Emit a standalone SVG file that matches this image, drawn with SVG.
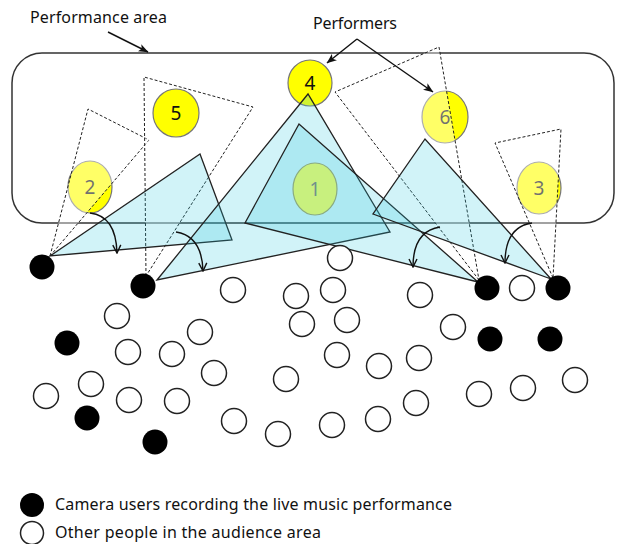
<svg xmlns="http://www.w3.org/2000/svg" width="617" height="544" viewBox="0 0 617 544">
  <defs>
    <style>
      .lbl{font-family:"Noto Sans","Open Sans","Liberation Sans",sans-serif;font-size:16px;fill:#111}
      .num{font-family:"Noto Sans","Open Sans","Liberation Sans",sans-serif;font-size:19px;text-anchor:middle;fill:#111}
      .perf{fill:#ffff00;stroke:#777;stroke-width:1.2}
      .fov{fill:#ffffff;fill-opacity:0.4;stroke:#222;stroke-width:1;stroke-dasharray:3 2}
      .view{fill:#2fc8e0;fill-opacity:0.22;stroke:#222;stroke-width:1.3}
      .cam{fill:#000}
      .aud{fill:#fff;stroke:#222;stroke-width:1.5}
      .arrow{fill:none;stroke:#111;stroke-width:1.4}
      .area{fill:none;stroke:#333;stroke-width:1.5}
    </style>
    <marker id="head" viewBox="0 0 10 8" refX="9.5" refY="4" markerWidth="10" markerHeight="8" markerUnits="userSpaceOnUse" orient="auto">
      <path d="M0,0 L10,4 L0,8 L2.5,4 z" fill="#111"/>
    </marker>
    <marker id="chev" viewBox="0 0 10 10" refX="9" refY="5" markerWidth="10" markerHeight="10" markerUnits="userSpaceOnUse" orient="auto">
      <path d="M1,1 L9,5 L1,9" fill="none" stroke="#111" stroke-width="1.4"/>
    </marker>
  </defs>

  <!-- stage outline -->
  <g id="performance-area">
    <rect class="area" x="12" y="53" width="602" height="170" rx="30" ry="30"/>
    <text class="lbl" x="30" y="23" textLength="137">Performance area</text>
  </g>

  <!-- performers partly covered by camera views -->
  <g id="performer-2">
    <ellipse class="perf" cx="90" cy="187" rx="22" ry="26"/>
    <text class="num" x="90" y="194">2</text>
  </g>
  <g id="performer-3">
    <ellipse class="perf" cx="539" cy="188" rx="22" ry="26"/>
    <text class="num" x="539" y="195">3</text>
  </g>
  <g id="performer-6">
    <ellipse class="perf" cx="445" cy="117" rx="23" ry="26"/>
    <text class="num" x="445" y="124">6</text>
  </g>

  <!-- dashed fields of view -->
  <g id="fields-of-view">
    <polygon class="fov" points="50,256 88,109 149,140"/>
    <polygon class="fov" points="146,276 144,77 253,107"/>
    <polygon class="fov" points="479,280 335,92 439,47"/>
    <polygon class="fov" points="553,278 495,143 561,129"/>
  </g>

  <g id="performer-4">
    <ellipse class="perf" cx="310" cy="83" rx="22" ry="23"/>
    <text class="num" x="310" y="90">4</text>
  </g>
  <g id="performer-5">
    <ellipse class="perf" cx="176" cy="113" rx="23" ry="24"/>
    <text class="num" x="176" y="120">5</text>
  </g>

  <!-- shaded recording views -->
  <g id="recording-views">
    <polygon class="view" points="50,256 200,154 232,240"/>
    <polygon class="view" points="157,280 308,94 390,232"/>
    <polygon class="view" points="478,282 299,124 245,223"/>
    <polygon class="view" points="551,279 425,139 373,214"/>
  </g>

  <g id="performer-1">
    <ellipse cx="315" cy="189" rx="22" ry="26" fill="#c8f07e" stroke="#8aab80" stroke-width="1.2"/>
    <text class="num" x="315" y="196" style="fill:#71908c">1</text>
  </g>

  <!-- connectors -->
  <g id="connectors">
    <line class="arrow" x1="108" y1="32" x2="148" y2="52" marker-end="url(#head)"/>
    <line class="arrow" x1="357" y1="39" x2="327" y2="63" marker-end="url(#head)"/>
    <line class="arrow" x1="357" y1="39" x2="433" y2="92" marker-end="url(#head)"/>
    <path class="arrow" d="M90,213 Q116,216 117,253" marker-end="url(#chev)"/>
    <path class="arrow" d="M176,232 Q202,236 203,271" marker-end="url(#chev)"/>
    <path class="arrow" d="M440,227 Q413,231 413,267" marker-end="url(#chev)"/>
    <path class="arrow" d="M532,223 Q505,227 505,263" marker-end="url(#chev)"/>
    <text class="lbl" x="313" y="29" textLength="84">Performers</text>
  </g>

  <!-- camera users -->
  <g id="camera-users">
    <circle class="cam" cx="42" cy="267" r="12.5"/>
    <circle class="cam" cx="143" cy="286" r="12.5"/>
    <circle class="cam" cx="487" cy="288" r="12.5"/>
    <circle class="cam" cx="558" cy="288" r="12.5"/>
    <circle class="cam" cx="67" cy="343" r="12.5"/>
    <circle class="cam" cx="87" cy="418" r="12.5"/>
    <circle class="cam" cx="155" cy="442" r="12.5"/>
    <circle class="cam" cx="490" cy="339" r="12.5"/>
    <circle class="cam" cx="550" cy="339" r="12.5"/>
  </g>

  <!-- rest of the audience -->
  <g id="audience">
    <circle class="aud" cx="340" cy="258" r="12.5"/>
    <circle class="aud" cx="233" cy="290" r="12.5"/>
    <circle class="aud" cx="333" cy="290" r="12.5"/>
    <circle class="aud" cx="420" cy="295" r="12.5"/>
    <circle class="aud" cx="522" cy="288" r="12.5"/>
    <circle class="aud" cx="296" cy="296" r="12.5"/>
    <circle class="aud" cx="117" cy="316" r="12.5"/>
    <circle class="aud" cx="302" cy="324" r="12.5"/>
    <circle class="aud" cx="347" cy="320" r="12.5"/>
    <circle class="aud" cx="453" cy="327" r="12.5"/>
    <circle class="aud" cx="200" cy="332" r="12.5"/>
    <circle class="aud" cx="128" cy="352" r="12.5"/>
    <circle class="aud" cx="172" cy="354" r="12.5"/>
    <circle class="aud" cx="337" cy="355" r="12.5"/>
    <circle class="aud" cx="419" cy="358" r="12.5"/>
    <circle class="aud" cx="379" cy="366" r="12.5"/>
    <circle class="aud" cx="214" cy="373" r="12.5"/>
    <circle class="aud" cx="286" cy="379" r="12.5"/>
    <circle class="aud" cx="91" cy="384" r="12.5"/>
    <circle class="aud" cx="46" cy="396" r="12.5"/>
    <circle class="aud" cx="129" cy="400" r="12.5"/>
    <circle class="aud" cx="177" cy="401" r="12.5"/>
    <circle class="aud" cx="234" cy="421" r="12.5"/>
    <circle class="aud" cx="278" cy="434" r="12.5"/>
    <circle class="aud" cx="332" cy="425" r="12.5"/>
    <circle class="aud" cx="378" cy="419" r="12.5"/>
    <circle class="aud" cx="416" cy="403" r="12.5"/>
    <circle class="aud" cx="479" cy="394" r="12.5"/>
    <circle class="aud" cx="523" cy="388" r="12.5"/>
    <circle class="aud" cx="575" cy="380" r="12.5"/>
  </g>

  <!-- key -->
  <g id="legend">
    <circle class="cam" cx="32" cy="505" r="12"/>
    <text class="lbl" x="55" y="510" textLength="397">Camera users recording the live music performance</text>
    <circle class="aud" cx="32" cy="533" r="11.5"/>
    <text class="lbl" x="55" y="538" textLength="266">Other people in the audience area</text>
  </g>
</svg>
